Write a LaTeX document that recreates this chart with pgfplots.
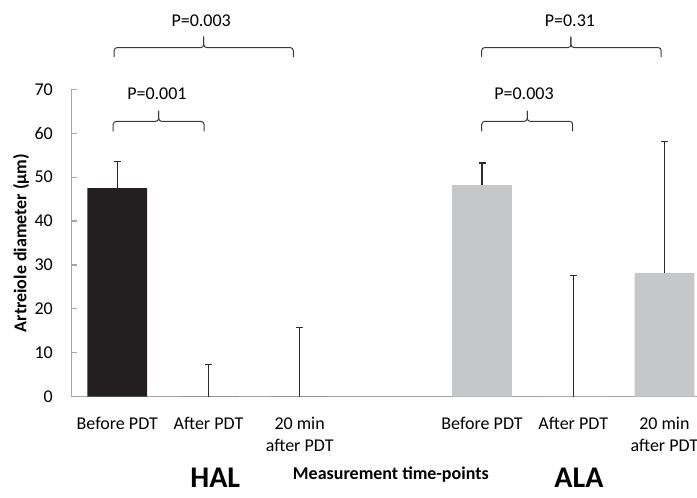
\documentclass[border=0pt]{standalone}
\usepackage{fontspec}
\setmainfont{Carlito}
\usepackage{pgfplots}
\pgfplotsset{compat=1.18}

\definecolor{halbar}{HTML}{231F20}
\definecolor{alabar}{HTML}{C6C7C9}
\definecolor{axisgray}{HTML}{A6A6A6}
\definecolor{errcol}{HTML}{2B2B2B}
\definecolor{bracketcol}{HTML}{3A3A3A}

% x = time-point slot, y = mean diameter, e = upper error
\pgfplotstableread{
x y e
0 47.5 6.1
1 0 7.3
2 0 15.7
}\haldata
\pgfplotstableread{
x y e
4 48.2 5.0
5 0 27.6
6 28.2 29.9
}\aladata

\begin{document}
\begin{tikzpicture}[font=\fontsize{18}{22.5}\selectfont]
\begin{axis}[
  at={(0pt,0pt)}, anchor=south west,
  scale only axis, width=638.3pt, height=307.4pt,
  xmin=-0.5, xmax=6.5, ymin=0, ymax=70,
  axis x line*=bottom, axis y line*=left,
  axis line style={axisgray, line width=1.2pt},
  ytick={0,10,...,70},
  tick align=inside, major tick length=5pt,
  ytick style={axisgray, line width=1.2pt},
  xtick={0,1,2,4,5,6},
  xticklabels={Before PDT, After PDT, {20 min\\after PDT}, Before PDT, After PDT, {20 min\\after PDT}},
  xtick style={draw=none},
  xticklabel style={align=center, anchor=north, inner sep=0pt, yshift=-15pt},
  yticklabel style={anchor=east, inner sep=0pt, xshift=-18.7pt},
  /pgf/number format/assume math mode=true,
  ybar, bar width=0.655, bar shift=0pt,
  clip=false,
]
\addplot[fill=halbar, draw=none, bar shift=0pt,
  error bars/.cd, y dir=plus, y explicit,
  error bar style={draw=errcol, line width=1.2pt},
  error mark options={draw=errcol, line width=1.2pt, mark size=3.5pt, rotate=90}]
  table[x=x, y=y, y error=e] {\haldata};
\addplot[fill=alabar, draw=none, bar shift=0pt,
  error bars/.cd, y dir=plus, y explicit,
  error bar style={draw=errcol, line width=1.2pt},
  error mark options={draw=errcol, line width=1.2pt, mark size=3.5pt, rotate=90}]
  table[x=x, y=y, y error=e] {\aladata};

% significance brackets
\begin{scope}[draw=bracketcol, line width=1pt, rounded corners=3pt]
  % HAL: before vs 20 min
  \draw (axis cs:-0.035,77.3) -- (axis cs:-0.035,79.5) -- (axis cs:0.948,79.5) -- (axis cs:0.948,82.0);
  \draw (axis cs:0.948,82.0) -- (axis cs:0.948,79.5) -- (axis cs:1.93,79.5) -- (axis cs:1.93,77.3);
  % HAL: before vs after
  \draw (axis cs:-0.045,60.4) -- (axis cs:-0.045,62.7) -- (axis cs:0.454,62.7) -- (axis cs:0.454,65.1);
  \draw (axis cs:0.454,65.1) -- (axis cs:0.454,62.7) -- (axis cs:0.951,62.7) -- (axis cs:0.951,60.4);
  % ALA: before vs 20 min
  \draw (axis cs:3.996,77.3) -- (axis cs:3.996,79.5) -- (axis cs:4.975,79.5) -- (axis cs:4.975,82.0);
  \draw (axis cs:4.975,82.0) -- (axis cs:4.975,79.5) -- (axis cs:5.965,79.5) -- (axis cs:5.965,77.3);
  % ALA: before vs after
  \draw (axis cs:3.996,60.4) -- (axis cs:3.996,62.7) -- (axis cs:4.496,62.7) -- (axis cs:4.496,65.1);
  \draw (axis cs:4.496,65.1) -- (axis cs:4.496,62.7) -- (axis cs:4.994,62.7) -- (axis cs:4.994,60.4);
\end{scope}
\node[anchor=base] at (axis cs:0.92,84.4) {P=0.003};
\node[anchor=base] at (axis cs:0.435,67.6) {P=0.001};
\node[anchor=base] at (axis cs:4.964,84.4) {P=0.31};
\node[anchor=base] at (axis cs:4.46,67.6) {P=0.003};

% axis titles and group names
\node[rotate=90, anchor=center, font=\fontsize{18}{22.5}\selectfont\bfseries] at (axis cs:-1.056,35) {Artreiole diameter (µm)};
\node[anchor=base, font=\fontsize{18}{22.5}\selectfont\bfseries] at (axis cs:3.0,-18.9) {Measurement time-points};
\node[anchor=base, inner sep=0pt, text depth=0pt, font=\fontsize{30}{36}\selectfont\bfseries] at (axis cs:1.074,-20.6) {HAL};
\node[anchor=base, inner sep=0pt, text depth=0pt, font=\fontsize{30}{36}\selectfont\bfseries] at (axis cs:5.063,-20.6) {ALA};
\end{axis}
\pgfresetboundingbox
\path[use as bounding box] (-71.7pt,-101.3pt) rectangle (625.3pt,396.7pt);
\end{tikzpicture}
\end{document}
